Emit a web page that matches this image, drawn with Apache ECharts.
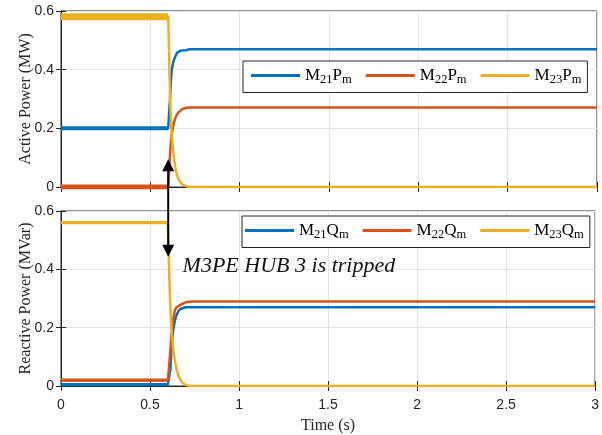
<!DOCTYPE html>
<html><head><meta charset="utf-8">
<script src="https://cdn.jsdelivr.net/npm/echarts@6/dist/echarts.min.js"></script>
<style>html,body{margin:0;padding:0;background:#fff}#c{width:602px;height:435px}</style>
</head><body><div id="c"></div>
<script>
// time samples (s)
var time = [0, 0.6, 0.605, 0.61, 0.615, 0.62, 0.63, 0.64, 0.65, 0.66, 0.67, 0.68, 0.7, 0.72, 0.75, 0.8, 1.0, 3.0];
// Active power (MW)
var m21p = [0.20, 0.20, 0.25, 0.30, 0.36, 0.40, 0.43, 0.445, 0.458, 0.463, 0.465, 0.464, 0.466, 0.470, 0.470, 0.470, 0.470, 0.470];
var m22p = [0.00, 0.00, 0.05, 0.11, 0.15, 0.18, 0.215, 0.235, 0.248, 0.256, 0.262, 0.266, 0.270, 0.271, 0.271, 0.271, 0.271, 0.271];
var m23p = [0.58, 0.58, 0.45, 0.32, 0.23, 0.17, 0.11, 0.065, 0.04, 0.025, 0.015, 0.008, 0.003, 0.0, 0.0, 0.0, 0.0, 0.0];
// Reactive power (MVar)
var m21q = [0.005, 0.005, 0.007, 0.01, 0.06, 0.13, 0.19, 0.225, 0.245, 0.257, 0.264, 0.267, 0.270, 0.270, 0.270, 0.270, 0.270, 0.270];
var m22q = [0.02, 0.02, 0.05, 0.09, 0.13, 0.17, 0.23, 0.26, 0.27, 0.275, 0.278, 0.282, 0.287, 0.289, 0.290, 0.290, 0.290, 0.290];
var m23q = [0.56, 0.56, 0.45, 0.34, 0.26, 0.20, 0.13, 0.085, 0.055, 0.035, 0.022, 0.012, 0.004, 0.0, 0.0, 0.0, 0.0, 0.0];
var tripTime = 0.6;
var xTicks = ['0', '0.5', '1', '1.5', '2', '2.5', '3'];
var yTicks = ['0', '0.2', '0.4', '0.6'];
var annotation = 'M3PE HUB 3 is tripped';

var BLUE = '#0072BD', ORANGE = '#D95319', YELLOW = '#EDB120', INK = '#262626';
function pairs(arr, maxT) {
  var out = [];
  for (var i = 0; i < time.length; i++) if (maxT == null || time[i] <= maxT) out.push([time[i], arr[i]]);
  return out;
}
var chart = echarts.init(document.getElementById('c'), null, {renderer: 'canvas'});
var tickLabel = {color: INK, fontFamily: 'Liberation Sans', fontSize: 14};
function xAx(grid, pos, labels) {
  return {
    type: 'value', gridIndex: grid, position: pos, min: 0, max: 3, interval: 0.5,
    axisLine: {show: true, lineStyle: {color: INK, width: 1}},
    axisTick: {show: true, inside: true, length: 5, lineStyle: {color: INK}},
    axisLabel: labels ? Object.assign({margin: 12, formatter: function (v) { return xTicks[Math.round(v / 0.5)]; }}, tickLabel) : {show: false},
    splitLine: {show: pos === 'bottom', lineStyle: {color: '#e3e3e3', width: 1}},
    name: labels ? 'Time (s)' : '', nameLocation: 'middle', nameGap: 32, nameMoveOverlap: false,
    nameTextStyle: {fontFamily: 'Liberation Serif', fontSize: 16, color: INK}
  };
}
function yAx(grid, pos, name) {
  return {
    type: 'value', gridIndex: grid, position: pos, min: 0, max: 0.6, interval: 0.2,
    axisLine: {show: true, lineStyle: {color: INK, width: 1}},
    axisTick: {show: true, inside: true, length: 5, lineStyle: {color: INK}},
    axisLabel: name ? Object.assign({margin: 7, formatter: function (v) { return yTicks[Math.round(v / 0.2)]; }}, tickLabel) : {show: false},
    splitLine: {show: pos === 'left', lineStyle: {color: '#e3e3e3', width: 1}},
    name: name || '', nameLocation: 'middle', nameGap: 27, nameMoveOverlap: false,
    nameTextStyle: {fontFamily: 'Liberation Serif', fontSize: 16, color: INK}
  };
}
function line(name, arr, color, xi, yi, width, maxT) {
  return {
    type: 'line', name: name, xAxisIndex: xi, yAxisIndex: yi, data: pairs(arr, maxT),
    symbol: 'none', color: color, lineStyle: {color: color, width: width}, silent: true
  };
}
function legendFmt(n) {
  var m = n.match(/M(\d+)([PQ])m/);
  return '{b|M}{s|' + m[1] + '}{b|' + m[2] + '}{s|m}';
}
var legendRich = {
  b: {fontFamily: 'Liberation Serif', fontSize: 17, color: '#000', lineHeight: 22, verticalAlign: 'middle'},
  s: {fontFamily: 'Liberation Serif', fontSize: 12.5, color: '#000', lineHeight: 22, verticalAlign: 'bottom'}
};
function legend(left, top, names, padLeft) {
  return {
    left: left, top: top, data: names, orient: 'horizontal',
    icon: 'rect', itemWidth: 49, itemHeight: 3, itemGap: 14,
    padding: [6, 6, 6, padLeft], borderColor: INK, borderWidth: 1, backgroundColor: '#fff',
    formatter: legendFmt, selectedMode: false,
    textStyle: {rich: legendRich, padding: [0, 0, 0, 0]}
  };
}
chart.setOption({
  animation: false,
  grid: [
    {left: 61, right: 5, top: 11, height: 176, show: true, borderColor: INK, borderWidth: 1},
    {left: 61, right: 5, top: 211, height: 176, show: true, borderColor: INK, borderWidth: 1}
  ],
  xAxis: [xAx(0, 'bottom', false), xAx(0, 'top', false), xAx(1, 'bottom', true), xAx(1, 'top', false)],
  yAxis: [yAx(0, 'left', 'Active Power (MW)'), yAx(0, 'right', null), yAx(1, 'left', 'Reactive Power (MVar)'), yAx(1, 'right', null)],
  legend: [
    legend(243, 61, ['M21Pm', 'M22Pm', 'M23Pm'], 8),
    legend(242, 216, ['M21Qm', 'M22Qm', 'M23Qm'], 3)
  ],
  series: [
    line('M21Pm', m21p, BLUE, 0, 0, 2.5),
    line('M22Pm', m22p, ORANGE, 0, 0, 2.5),
    line('M23Pm', m23p, YELLOW, 0, 0, 2.5),
    line('M21Pm_pre', m21p, BLUE, 0, 0, 4, tripTime),
    line('M22Pm_pre', m22p, ORANGE, 0, 0, 5, tripTime),
    line('M23Pm_pre', m23p, YELLOW, 0, 0, 7, tripTime),
    line('M21Qm', m21q, BLUE, 2, 2, 2.5),
    line('M22Qm', m22q, ORANGE, 2, 2, 2.5),
    line('M23Qm', m23q, YELLOW, 2, 2, 2.5),
    line('M21Qm_pre', m21q, BLUE, 2, 2, 3.3, tripTime),
    line('M22Qm_pre', m22q, ORANGE, 2, 2, 3.3, tripTime),
    line('M23Qm_pre', m23q, YELLOW, 2, 2, 3.3, tripTime)
  ]
});
// annotation arrow across both panels at trip time
var pTop = chart.convertToPixel({gridIndex: 0}, [tripTime, 0.095]);
var pBot = chart.convertToPixel({gridIndex: 1}, [tripTime, 0.443]);
var pTxt = chart.convertToPixel({gridIndex: 1}, [0.683, 0.41]);
var ax = pTop[0];
chart.setOption({
  graphic: [
    {type: 'line', shape: {x1: ax, y1: pTop[1] + 8, x2: ax, y2: pBot[1] - 8}, style: {stroke: '#000', lineWidth: 2}, z: 100},
    {type: 'polygon', shape: {points: [[ax, pTop[1]], [ax - 6, pTop[1] + 12], [ax + 6, pTop[1] + 12]]}, style: {fill: '#000'}, z: 100},
    {type: 'polygon', shape: {points: [[ax, pBot[1]], [ax - 6, pBot[1] - 12], [ax + 6, pBot[1] - 12]]}, style: {fill: '#000'}, z: 100},
    {type: 'text', x: pTxt[0], y: pTxt[1], style: {text: annotation, fontFamily: 'Liberation Serif', fontStyle: 'italic', fontSize: 22, fill: '#111', textAlign: 'left', textVerticalAlign: 'middle'}, z: 100}
  ]
});
</script></body></html>
